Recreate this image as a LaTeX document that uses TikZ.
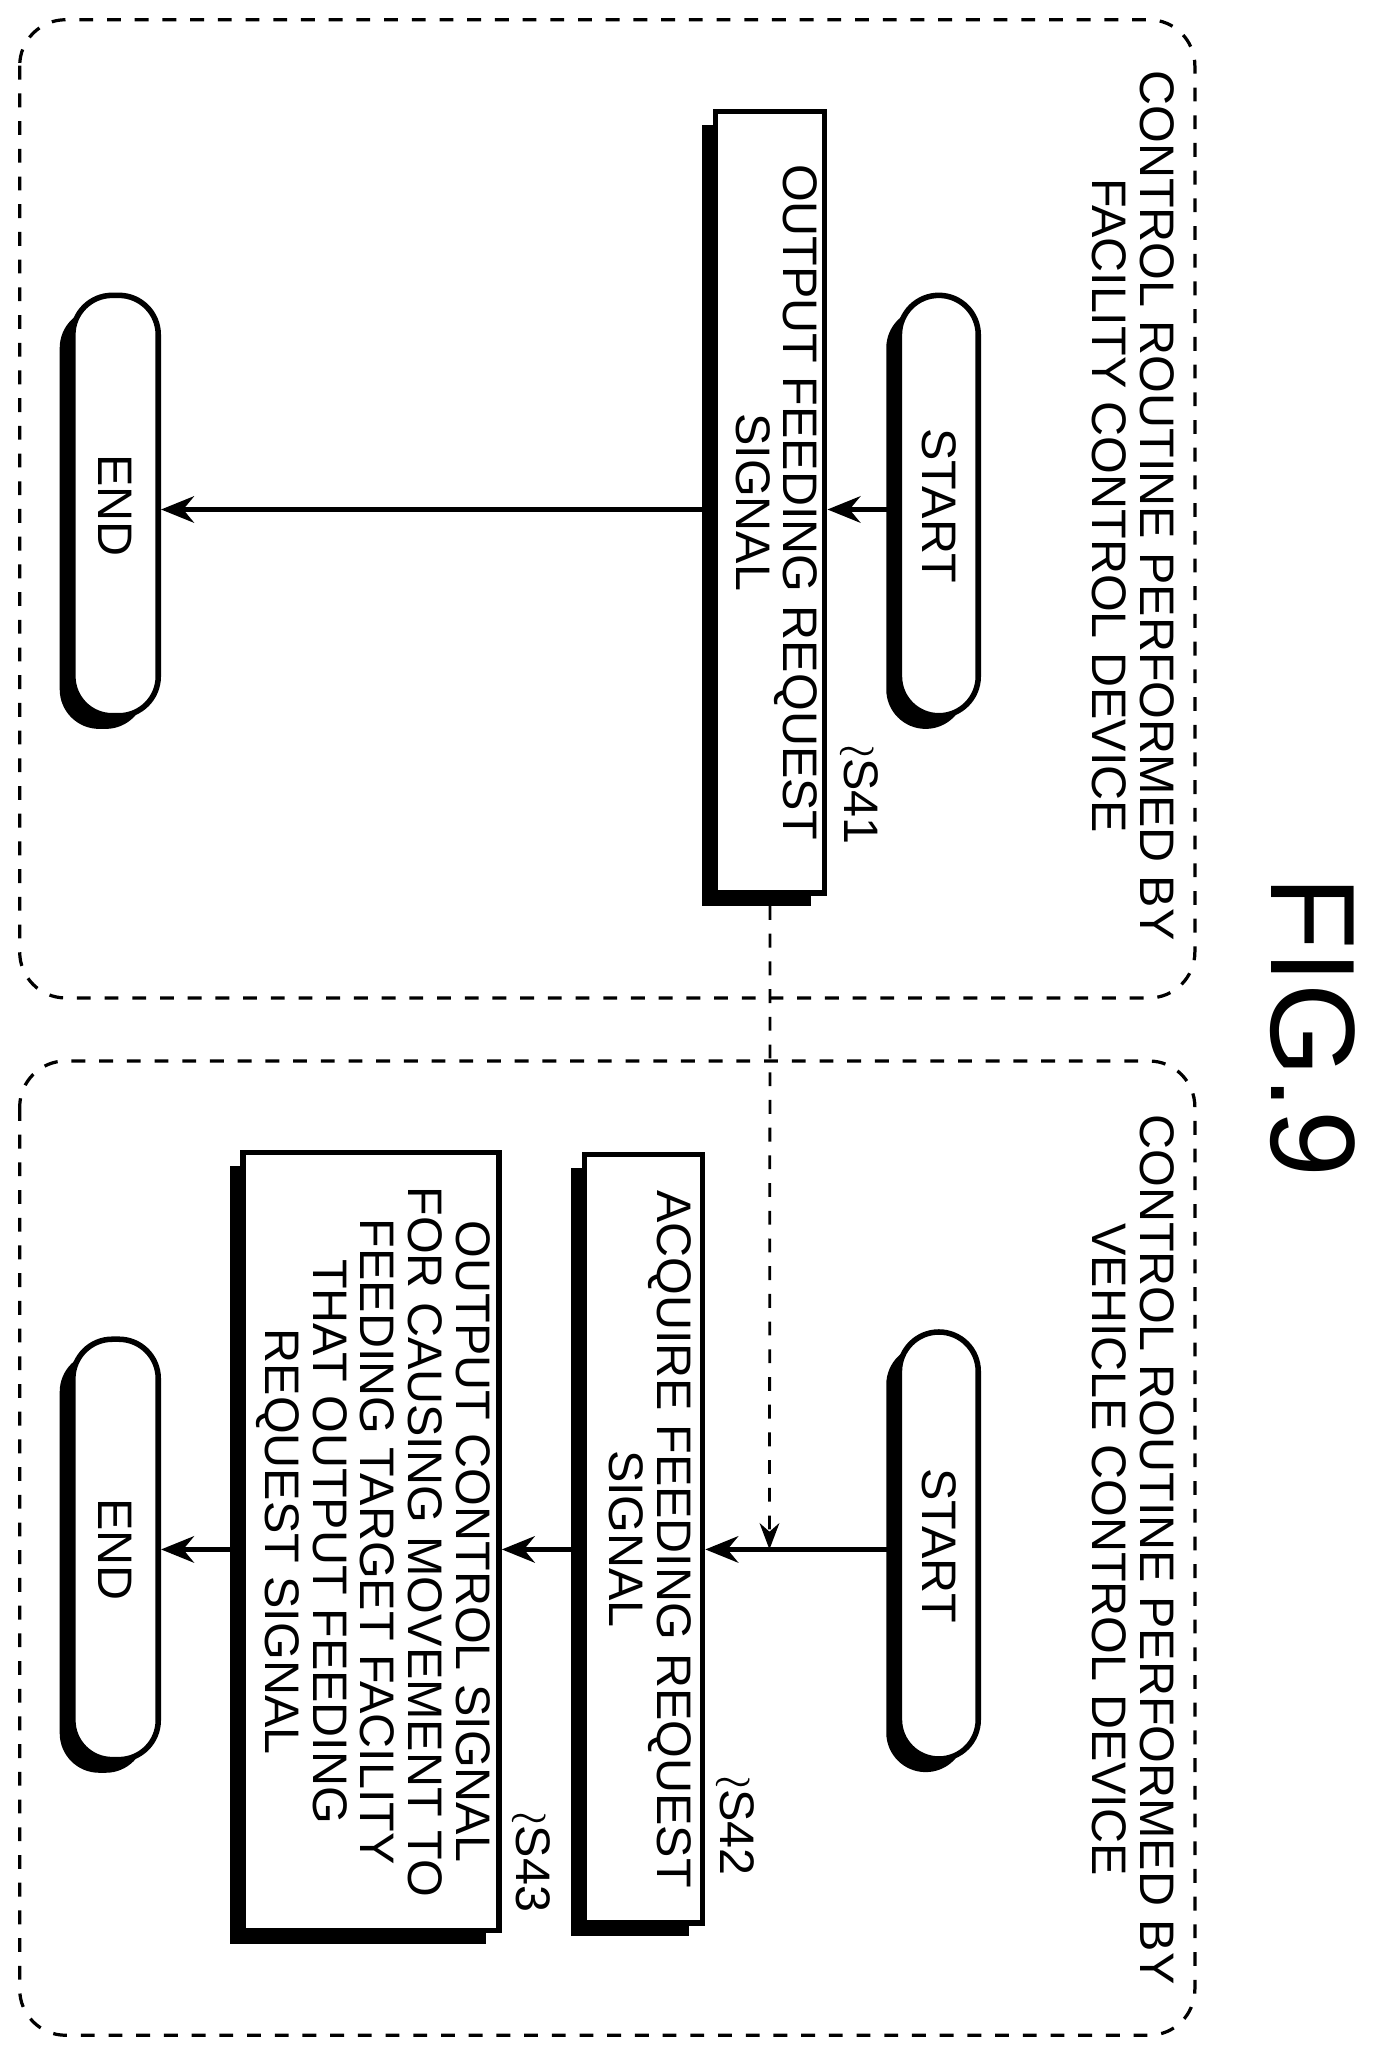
\documentclass[tikz,border=0pt]{standalone}
\usepackage{fontspec}
\setmainfont{Liberation Sans}
\usepackage{graphicx}
\usetikzlibrary{shadows,arrows.meta}
\begin{document}
\begin{tikzpicture}[x=0.01cm,y=-0.01cm,
  every node/.style={font=\fontsize{10.5}{10}\selectfont},
  panel/.style={draw,dashed,rounded corners=0.35cm,line width=0.7pt},
  sh/.style={draw,line width=1.2pt,fill=white,drop shadow={shadow xshift=-0.1cm,shadow yshift=-0.1cm,opacity=1,fill=black}},
  term/.style={sh,rounded corners=0.3cm,inner sep=0pt},
  proc/.style={sh,inner sep=0pt},
  arr/.style={-{Stealth[length=0.25cm,width=0.2cm]},line width=1.2pt},
  lbl/.style={inner sep=0pt}]
\useasboundingbox (0,0) rectangle (1050,1562);
% panels
\draw[panel] (15,15) rectangle (910,760);
\draw[panel] (15,808) rectangle (910,1550);
\node[lbl] (t1) at (858,385) {\rotatebox{-90}{\begin{tabular}{c}CONTROL ROUTINE PERFORMED BY\\[0pt]FACILITY CONTROL DEVICE\end{tabular}}};
\node[lbl] (t2) at (858,1180) {\rotatebox{-90}{\begin{tabular}{c}CONTROL ROUTINE PERFORMED BY\\[0pt]VEHICLE CONTROL DEVICE\end{tabular}}};
\node[lbl,font=\fontsize{26}{26}\selectfont] (fig) at (1000,782) {\rotatebox{-90}{FIG.9}};
% top flow
\node[term,minimum width=0.6cm,minimum height=3.2cm] (s1) at (715,385) {\rotatebox{-90}{START}};
\node[proc,minimum width=0.83cm,minimum height=5.95cm] (b41) at (586.5,382.5) {\rotatebox{-90}{\begin{tabular}{c}OUTPUT FEEDING REQUEST\\SIGNAL\end{tabular}}};
\node[term,minimum width=0.65cm,minimum height=3.2cm] (e1) at (88,385) {\rotatebox{-90}{END}};
\draw[arr] (s1.west|-0,388) -- (b41.east|-0,388);
\draw[arr] (b41.west|-0,388) -- (e1.east|-0,388);
\node[lbl] (l41) at (653,605) {\rotatebox{-90}{$\wr$S41}};
% bottom flow
\node[term,minimum width=0.6cm,minimum height=3.25cm] (s2) at (715,1177) {\rotatebox{-90}{START}};
\node[proc,minimum width=0.9cm,minimum height=5.85cm] (b42) at (490,1172) {\rotatebox{-90}{\begin{tabular}{c}ACQUIRE FEEDING REQUEST\\SIGNAL\end{tabular}}};
\node[proc,minimum width=1.95cm,minimum height=5.92cm] (b43) at (282.5,1174) {\rotatebox{-90}{\begin{tabular}{c}OUTPUT CONTROL SIGNAL\\FOR CAUSING MOVEMENT TO\\FEEDING TARGET FACILITY\\THAT OUTPUT FEEDING\\REQUEST SIGNAL\end{tabular}}};
\node[term,minimum width=0.65cm,minimum height=3.2cm] (e2) at (88,1180) {\rotatebox{-90}{END}};
\draw[arr] (s2.west|-0,1180) -- (b42.east|-0,1180);
\draw[arr] (b42.west|-0,1180) -- (b43.east|-0,1180);
\draw[arr] (b43.west|-0,1180) -- (e2.east|-0,1180);
\node[lbl] (l42) at (558,1390) {\rotatebox{-90}{$\wr$S42}};
\node[lbl] (l43) at (403,1418) {\rotatebox{-90}{$\wr$S43}};
% dashed signal
\coordinate (d1) at (586,1180);
\draw[dashed,-{Stealth[length=0.2cm,width=0.15cm]},line width=0.6pt] (b41.south|-0,690) -- (d1);
\end{tikzpicture}
\end{document}
